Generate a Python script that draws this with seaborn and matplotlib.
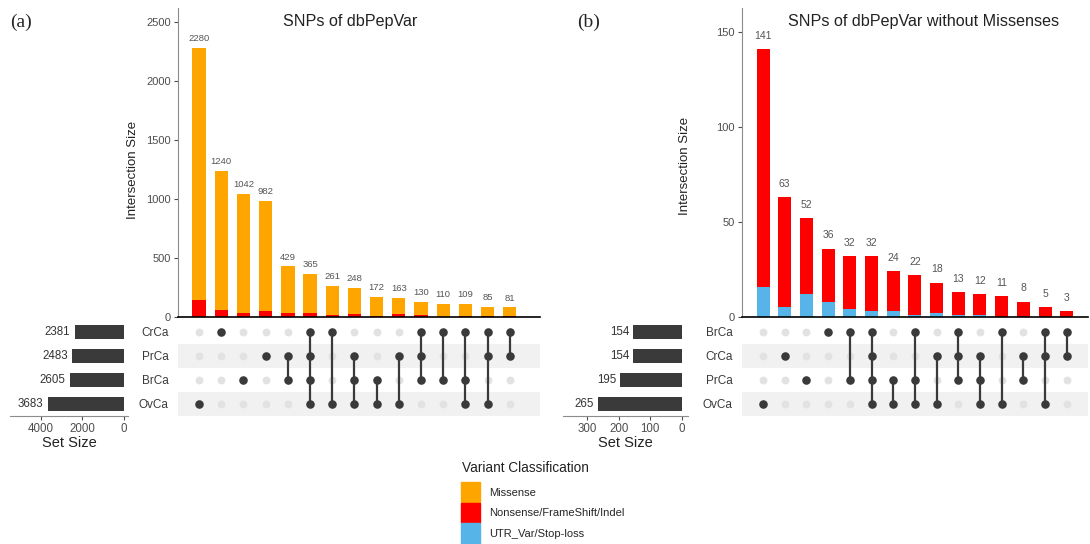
import matplotlib
matplotlib.use('Agg')
import matplotlib.pyplot as plt
from matplotlib.patches import Patch
import seaborn as sns

sns.set_theme(style="white")
plt.rcParams['font.family'] = ['Liberation Sans', 'DejaVu Sans']

# panel (a): SNPs of dbPepVar
a_sets = ["CrCa", "PrCa", "BrCa", "OvCa"]
a_set_sizes = [2381, 2483, 2605, 3683]
a_totals = [2280, 1240, 1042, 982, 429, 365, 261, 248, 172, 163, 130, 110, 109, 85, 81]
a_nonmissense = [141, 63, 36, 52, 32, 32, 18, 22, 11, 24, 13, 3, 5, 12, 8]
a_members = [["OvCa"], ["CrCa"], ["BrCa"], ["PrCa"], ["PrCa", "BrCa"],
             ["CrCa", "PrCa", "BrCa", "OvCa"], ["CrCa", "OvCa"], ["PrCa", "BrCa", "OvCa"],
             ["BrCa", "OvCa"], ["PrCa", "OvCa"], ["CrCa", "PrCa", "BrCa"], ["CrCa", "BrCa"],
             ["CrCa", "BrCa", "OvCa"], ["CrCa", "PrCa", "OvCa"], ["CrCa", "PrCa"]]

# panel (b): without missenses
b_sets = ["BrCa", "CrCa", "PrCa", "OvCa"]
b_set_sizes = [154, 154, 195, 265]
b_totals = [141, 63, 52, 36, 32, 32, 24, 22, 18, 13, 12, 11, 8, 5, 3]
b_utr = [16, 5, 12, 8, 4, 3, 3, 1, 2, 1, 1, 0, 0, 0, 0]
b_members = [["OvCa"], ["CrCa"], ["PrCa"], ["BrCa"], ["BrCa", "PrCa"],
             ["BrCa", "CrCa", "PrCa", "OvCa"], ["PrCa", "OvCa"], ["BrCa", "PrCa", "OvCa"],
             ["CrCa", "OvCa"], ["BrCa", "CrCa", "PrCa"], ["CrCa", "PrCa", "OvCa"],
             ["BrCa", "OvCa"], ["CrCa", "PrCa"], ["BrCa", "CrCa", "OvCa"], ["BrCa", "CrCa"]]

ORANGE = "#FFA500"
RED = "#FF0000"
BLUE = "#56B4E9"
DARK = "#3A3A3A"
TICK = "#4D4D4D"

W, H = 1090, 544
fig = plt.figure(figsize=(W / 100, H / 100), dpi=100)


def px_axes(x0, y0, x1, y1):
    return fig.add_axes([x0 / W, 1 - y1 / H, (x1 - x0) / W, (y1 - y0) / H])


def draw_panel(sets, set_sizes, totals, layers, members, geo):
    cols = list(range(len(totals)))

    # intersection bars
    ax = px_axes(*geo['bars'])
    for vals, color in layers:
        sns.barplot(x=cols, y=vals, color=color, width=0.6, saturation=1,
                    linewidth=0, ax=ax)
    for i, v in enumerate(totals):
        ax.annotate(str(v), (i, v), xytext=(0, geo['lab_off']), textcoords='offset points',
                    ha='center', va='bottom', fontsize=geo['lab_fs'], color='#555555')
    ax.set_xlim(geo['xlim'])
    ax.set_ylim(0, geo['ymax'])
    ax.set_yticks(geo['yticks'])
    ax.set_xticks([])
    ax.set_xlabel('')
    ax.set_ylabel('Intersection Size', fontsize=9.5, color='#222222')
    ax.yaxis.set_label_coords(*geo['ylab_xy'])
    ax.tick_params(axis='y', length=3, width=0.8, color=TICK, labelsize=8,
                   labelcolor=TICK, pad=2, left=True)
    for s in ('top', 'right'):
        ax.spines[s].set_visible(False)
    ax.spines['left'].set_color('#8C8C8C')
    ax.spines['left'].set_linewidth(0.8)
    ax.spines['bottom'].set_color('black')
    ax.spines['bottom'].set_linewidth(1.2)
    ax.text(geo['title_x'], 0.955, geo['title'], transform=ax.transAxes,
            ha='center', va='center', fontsize=11.6, color='#222222')

    # matrix
    axm = px_axes(*geo['matrix'])
    n = len(sets)
    axm.set_xlim(geo['xlim'])
    axm.set_ylim(n - 0.5, -0.5)
    for r in range(1, n, 2):
        axm.axhspan(r - 0.5, r + 0.5, color='#F1F1F1', lw=0, zorder=0)
    gx = [c for c in cols for _ in range(n)]
    gy = [r for _ in cols for r in range(n)]
    axm.scatter(gx, gy, s=32, color='#E2E2E2', lw=0, zorder=1)
    for i, mem in enumerate(members):
        rows = [sets.index(m) for m in mem]
        if len(rows) > 1:
            axm.plot([i, i], [min(rows), max(rows)], color=DARK, lw=1.6, zorder=2)
        axm.scatter([i] * len(rows), rows, s=38, color=DARK, lw=0, zorder=3)
    axm.set_yticks(range(n))
    axm.set_yticklabels(sets)
    axm.set_xticks([])
    axm.tick_params(axis='y', length=0, pad=7, labelsize=8.5, labelcolor='#3A3A3A')
    for s in axm.spines.values():
        s.set_visible(False)

    # set size bars
    axs = px_axes(*geo['sets'])
    sns.barplot(x=set_sizes, y=sets, orient='h', color=DARK, width=0.55,
                saturation=1, linewidth=0, ax=axs)
    for r, v in enumerate(set_sizes):
        axs.annotate(str(v), (v, r), xytext=(-3, 0), textcoords='offset points',
                     ha='right', va='center', fontsize=8.3, color='#333333')
    axs.set_xlim(geo['set_xlim'])
    axs.set_ylim(n - 0.5, -0.5)
    axs.set_xticks(geo['set_ticks'])
    axs.set_yticks([])
    axs.set_ylabel('')
    axs.set_xlabel('Set Size', fontsize=10.5, color='#222222', labelpad=1)
    axs.tick_params(axis='x', length=3, width=0.8, color=TICK, labelsize=8.3,
                    labelcolor=TICK, pad=2, bottom=True)
    for s in ('top', 'right', 'left'):
        axs.spines[s].set_visible(False)
    axs.spines['bottom'].set_color('#8C8C8C')
    axs.spines['bottom'].set_linewidth(0.8)


geo_a = dict(bars=(178, 8, 540, 317), matrix=(178, 320, 540, 416), sets=(10, 320, 128, 416),
             xlim=(-0.95, 15.36), ymax=2618, yticks=[0, 500, 1000, 1500, 2000, 2500],
             ylab_xy=(-0.108, 0.476), title='SNPs of dbPepVar', title_x=0.475,
             lab_off=3.5, lab_fs=6.8, set_xlim=(5494, -193), set_ticks=[0, 2000, 4000])
geo_b = dict(bars=(742, 8, 1088, 317), matrix=(742, 320, 1088, 416), sets=(563, 320, 688, 416),
             xlim=(-0.97, 14.98), ymax=162.6, yticks=[0, 50, 100, 150],
             ylab_xy=(-0.147, 0.49), title='SNPs of dbPepVar without Missenses', title_x=0.526,
             lab_off=6, lab_fs=7.5, set_xlim=(376, -19), set_ticks=[0, 100, 200, 300])

draw_panel(a_sets, a_set_sizes, a_totals, [(a_totals, ORANGE), (a_nonmissense, RED)],
           a_members, geo_a)
draw_panel(b_sets, b_set_sizes, b_totals, [(b_totals, RED), (b_utr, BLUE)],
           b_members, geo_b)

fig.text(10 / W, 1 - 22 / H, "(a)", family=['Liberation Serif', 'DejaVu Serif'],
         fontsize=14, va='center', ha='left')
fig.text(577 / W, 1 - 22 / H, "(b)", family=['Liberation Serif', 'DejaVu Serif'],
         fontsize=14, va='center', ha='left')

# legend: title as separate text so the gap above the keys matches
fig.text(462 / W, 1 - 468 / H, 'Variant Classification', fontsize=9.8,
         color='#222222', va='center', ha='left')
handles = [Patch(color=ORANGE, label='Missense'),
           Patch(color=RED, label='Nonsense/FrameShift/Indel'),
           Patch(color=BLUE, label='UTR_Var/Stop-loss')]
fig.legend(handles=handles, loc='upper left',
           bbox_to_anchor=(461 / W, 1 - 482 / H), frameon=False, fontsize=8,
           handlelength=1.75, handleheight=2.45, labelspacing=0.02,
           handletextpad=0.8, borderpad=0, borderaxespad=0)

fig.savefig('out.png', dpi=100)
